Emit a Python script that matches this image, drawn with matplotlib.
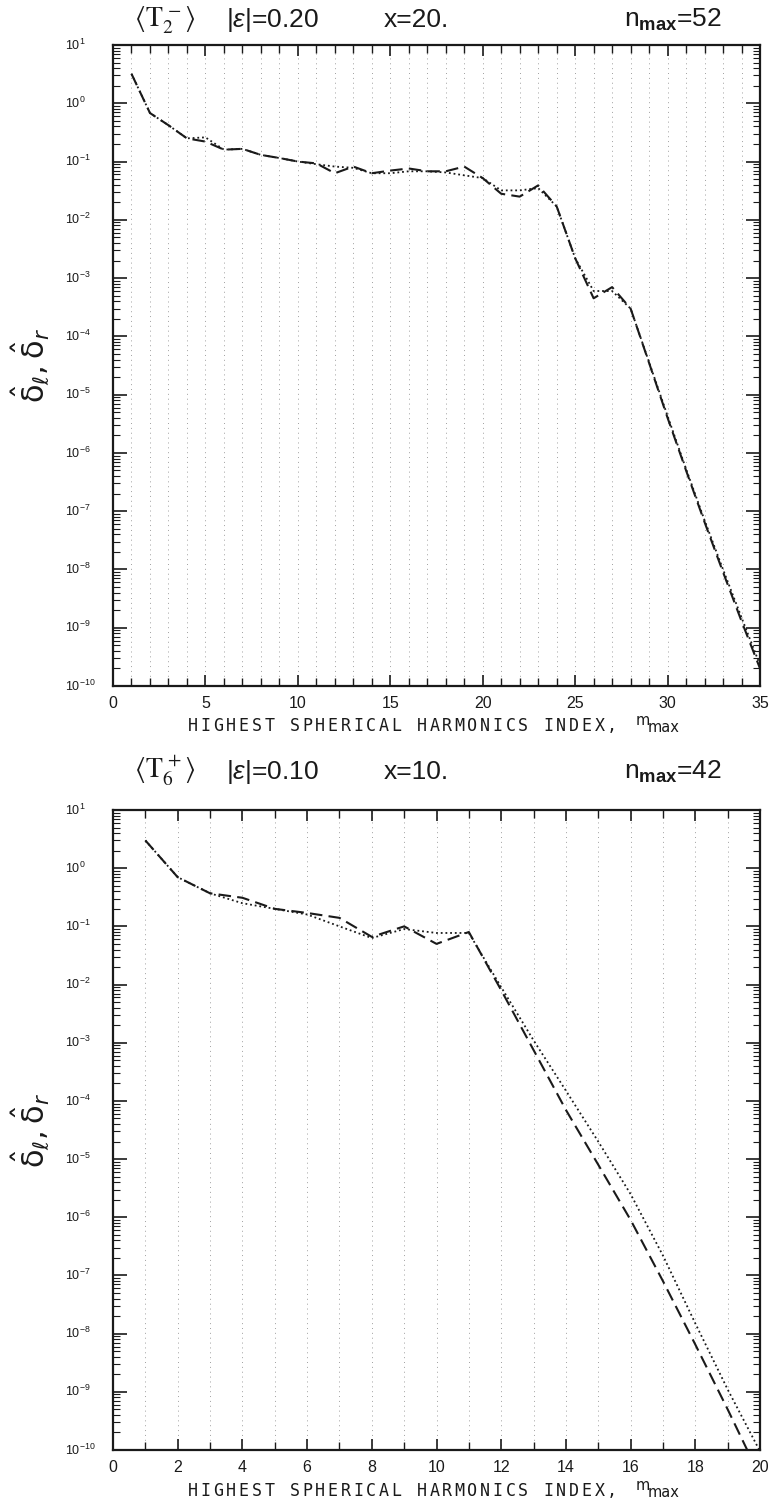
import numpy as np
import matplotlib
matplotlib.use('Agg')
import matplotlib.pyplot as plt
from matplotlib.ticker import FixedLocator, NullFormatter

# ---------------- data ----------------
m_top = list(range(1, 36))
dl_top = [3.2, 0.68, 0.42, 0.25, 0.22, 0.16, 0.165, 0.13, 0.115, 0.10,
          0.093, 0.063, 0.082, 0.063, 0.070, 0.076, 0.068, 0.068, 0.082, 0.052,
          0.028, 0.025, 0.039, 0.017, 2.2e-3, 4.5e-4, 7e-4, 3e-4, 3.5e-5, 4e-6,
          5e-7, 6.5e-8, 9e-9, 1.3e-9, 2e-10]
dr_top = [3.2, 0.68, 0.42, 0.25, 0.26, 0.16, 0.165, 0.13, 0.115, 0.10,
          0.090, 0.082, 0.078, 0.063, 0.063, 0.068, 0.068, 0.065, 0.058, 0.052,
          0.032, 0.032, 0.035, 0.017, 2.2e-3, 6e-4, 6e-4, 3e-4, 3.6e-5, 4.3e-6,
          5.3e-7, 7e-8, 1e-8, 1.5e-9, 2.3e-10]

m_bot = list(range(1, 21))
dl_bot = [3.0, 0.7, 0.37, 0.31, 0.20, 0.17, 0.14, 0.066, 0.10, 0.050,
          0.080, 8e-3, 7.5e-4, 7e-5, 8e-6, 9e-7, 8e-8, 6.5e-9, 5e-10, 3.5e-11]
dr_bot = [3.0, 0.7, 0.37, 0.25, 0.20, 0.16, 0.10, 0.063, 0.090, 0.077,
          0.077, 9e-3, 1.1e-3, 1.5e-4, 2e-5, 2.5e-6, 2.2e-7, 1.5e-8, 1.1e-9, 9.5e-11]

titles_top = [r'$\langle \mathrm{T}_2^{\,-}\rangle$', r'$|\varepsilon|$=0.20', 'x=20.', r'n$_{\mathbf{max}}$=52']
titles_bot = [r'$\langle \mathrm{T}_6^{\,+}\rangle$', r'$|\varepsilon|$=0.10', 'x=10.', r'n$_{\mathbf{max}}$=42']
xlabel_text = 'HIGHEST SPHERICAL HARMONICS INDEX,'
ylabel_text = r'$\hat{\mathrm{\delta}}_{\ell},\hat{\mathrm{\delta}}_{r}$'
decades = list(range(1, -11, -1))

W, H = 769, 1503
fig = plt.figure(figsize=(W / 100, H / 100), dpi=100)
plt.rcParams['font.family'] = ['Liberation Sans', 'DejaVu Sans']
plt.rcParams['mathtext.fontset'] = 'custom'
plt.rcParams['mathtext.rm'] = 'Liberation Sans'
plt.rcParams['mathtext.it'] = 'Liberation Sans:italic'
plt.rcParams['mathtext.bf'] = 'Liberation Sans:bold'

INK = '#1a1a1a'


def px_axes(left, top, right, bottom):
    return fig.add_axes([left / W, 1 - bottom / H, (right - left) / W, (bottom - top) / H])


def setup(ax, xmax, major, mvals, dl, dr, titles, title_y):
    ax.set_xlim(0, xmax)
    ax.set_yscale('log')
    ax.set_ylim(1e-10, 10)
    for xv in range(1, xmax):
        ax.axvline(xv, color='#a0a0a0', lw=0.7, ls=(0, (1, 4)), zorder=0)
    ax.plot(mvals, dr, color=INK, lw=1.3, ls=(0, (1, 1.6)), zorder=3)
    ax.plot(mvals, dl, color=INK, lw=1.5, ls=(0, (6, 3)), zorder=4)
    ax.xaxis.set_major_locator(FixedLocator(list(range(0, xmax + 1, major))))
    ax.xaxis.set_minor_locator(FixedLocator(list(range(0, xmax + 1))))
    ax.yaxis.set_major_locator(FixedLocator([10.0 ** k for k in decades]))
    minors = [j * 10.0 ** k for k in range(-10, 1) for j in range(2, 10)]
    ax.yaxis.set_minor_locator(FixedLocator(minors))
    ax.yaxis.set_major_formatter(NullFormatter())
    ax.yaxis.set_minor_formatter(NullFormatter())
    ax.tick_params(which='both', direction='in', top=True, right=True, color=INK)
    ax.tick_params(axis='x', which='major', length=8, width=1.2, labelsize=11.5, pad=7, labelcolor=INK)
    ax.tick_params(axis='x', which='minor', length=6, width=1.0)
    ax.tick_params(axis='y', which='major', length=10, width=1.2)
    ax.tick_params(axis='y', which='minor', length=5, width=0.8)
    for sp in ax.spines.values():
        sp.set_linewidth(1.6)
        sp.set_color(INK)
    ytr = ax.get_yaxis_transform()
    for k in decades:
        ax.text(-0.074, 10.0 ** k, r'10$^{%d}$' % k, transform=ytr, ha='left', va='center',
                fontsize=9, color=INK)
    tx = [134, 226, 384, 624]
    for t, x in zip(titles, tx):
        kw = dict(fontsize=19, color=INK, ha='left', va='baseline')
        if t.startswith(r'$\langle'):
            kw['math_fontfamily'] = 'stix'
            kw['fontsize'] = 20
        fig.text(x / W, 1 - title_y / H, t, **kw)
    ax.text(-0.128, 0.5, ylabel_text, transform=ax.transAxes, rotation=90,
            ha='center', va='center', fontsize=22, color=INK, math_fontfamily='dejavusans')


def xlabel(y_base):
    x0 = 188
    pitch = 12.7
    for i, ch in enumerate(xlabel_text):
        if ch != ' ':
            fig.text((x0 + i * pitch) / W, 1 - y_base / H, ch, family='DejaVu Sans Mono',
                     fontsize=12, ha='left', va='baseline', color=INK)
    xe = x0 + len(xlabel_text) * pitch + 16
    fig.text(xe / W, 1 - (y_base - 6) / H, 'm', family='DejaVu Sans', fontsize=10.5,
             ha='left', va='baseline', color=INK)
    fig.text((xe + 12) / W, 1 - (y_base + 1) / H, 'max', family='DejaVu Sans', fontsize=10.5,
             ha='left', va='baseline', color=INK)


ax1 = px_axes(113, 45, 760, 686)
setup(ax1, 35, 5, m_top, dl_top, dr_top, titles_top, 27)
xlabel(731)

ax2 = px_axes(113, 810, 760, 1450)
setup(ax2, 20, 2, m_bot, dl_bot, dr_bot, titles_bot, 779)
xlabel(1496)

fig.savefig('out.png', dpi=100)
